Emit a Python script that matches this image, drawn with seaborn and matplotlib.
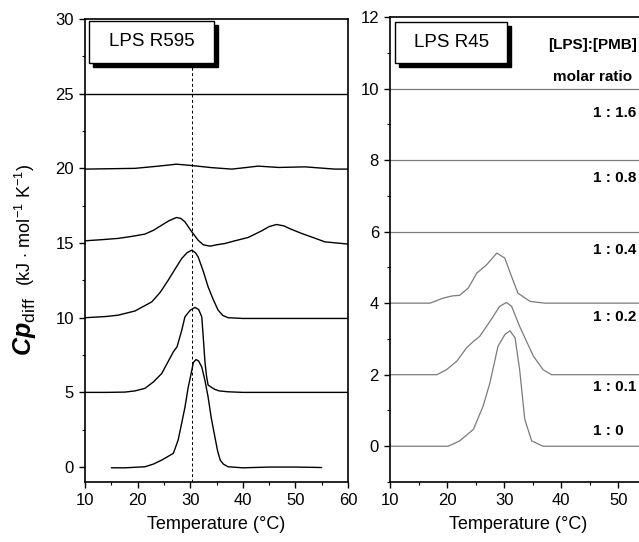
import matplotlib
matplotlib.use("Agg")
import matplotlib.pyplot as plt
from matplotlib.patches import Rectangle
from matplotlib.ticker import MultipleLocator
import seaborn as sns
import pandas as pd

# [LPS]:[PMB] molar ratios, bottom to top
ratios = ['1 : 0', '1 : 0.1', '1 : 0.2', '1 : 0.4', '1 : 0.8', '1 : 1.6']

# LPS R595 traces (values relative to each baseline), offset by 5
r595_offsets = [0, 5, 10, 15, 20, 25]
r595_x_0 = [15, 17.6, 21.4, 23.0, 24.6, 26.8, 27.7, 28.3, 29.0, 29.6, 30.2, 30.6, 31.1, 31.6, 32.2,
            32.8, 33.4, 34.0, 34.7, 35.2, 35.7, 36.3, 37.2, 40, 45, 50, 55]
r595_y_0 = [-0.05, -0.05, 0.02, 0.2, 0.47, 0.92, 1.8, 2.8, 4.0, 5.3, 6.3, 7.0, 7.2, 7.1, 6.7,
            5.8, 4.7, 3.3, 2.0, 1.1, 0.47, 0.2, 0.02, -0.05, 0.0, 0.0, -0.03]
r595_x_1 = [10, 14, 17.6, 19.5, 21.4, 23.0, 24.6, 26.8, 27.5, 28.4, 29.0, 30.0, 30.9, 31.6,
            32.2, 32.5, 32.8, 33.1, 33.4, 34.2, 34.7, 35.5, 37.2, 40, 45, 50, 55, 60]
r595_y_1 = [0, 0, 0.02, 0.1, 0.27, 0.7, 1.27, 2.72, 3.05, 4.17, 5.06, 5.5, 5.69, 5.55,
            5.06, 3.6, 2.06, 1.1, 0.49, 0.3, 0.2, 0.1, 0.04, 0, 0, 0, 0, 0]
r595_x_2 = [10, 14, 16.3, 19.5, 22.7, 24.3, 25.8, 27.2, 28.4, 29.4, 30.3, 31.0, 31.5, 32.5,
            33.4, 34.4, 35.3, 36.2, 37.2, 40, 45, 50, 55, 60]
r595_y_2 = [0, 0.08, 0.17, 0.45, 1.06, 1.7, 2.5, 3.3, 3.97, 4.35, 4.52, 4.35, 4.08, 3.1,
            2.07, 1.2, 0.51, 0.15, 0.0, -0.05, -0.05, -0.05, -0.05, -0.05]
r595_x_3 = [10, 13, 16.3, 19, 21.4, 23, 24.6, 26, 27.4, 28.2, 29.0, 30.2, 31.5, 32.5, 33.8, 35,
            36.6, 38.5, 41.0, 43.5, 45, 46.4, 47.8, 49, 51.2, 53.5, 55.6, 60]
r595_y_3 = [0.15, 0.22, 0.31, 0.45, 0.6, 0.85, 1.2, 1.5, 1.71, 1.65, 1.42, 0.8, 0.19, -0.12, -0.21,
            -0.12, -0.03, 0.15, 0.37, 0.8, 1.1, 1.24, 1.15, 0.95, 0.64, 0.35, 0.08, -0.07]
r595_x_4 = [10, 19.5, 24, 27.4, 30.3, 34, 37.9, 40.5, 42.9, 46.8, 51.8, 57.5, 60]
r595_y_4 = [-0.05, 0.0, 0.15, 0.28, 0.19, 0.05, -0.05, 0.05, 0.15, 0.06, 0.1, -0.05, -0.05]
r595_x_5 = [10, 60]
r595_y_5 = [0, 0]
r595_tm = 30.3

# LPS R45 traces (values relative to each baseline), offset by 2
r45_offsets = [0, 2, 4, 6, 8, 10]
r45_x_0 = [10, 20.2, 22.2, 24.6, 26.3, 27.5, 28.9, 30.1, 31.0, 31.9, 32.7, 33.6, 34.8, 36.8, 55]
r45_y_0 = [0, 0, 0.15, 0.47, 1.12, 1.77, 2.79, 3.12, 3.23, 3.03, 2.14, 0.75, 0.15, 0, 0]
r45_x_1 = [10, 18.2, 19.9, 21.7, 23.4, 24.6, 25.7, 27.5, 29.2, 30.4, 31.3, 32.7, 35.1, 36.8, 38.3, 55]
r45_y_1 = [0, 0, 0.14, 0.38, 0.75, 0.93, 1.07, 1.49, 1.91, 2.02, 1.91, 1.35, 0.52, 0.14, 0, 0]
r45_x_2 = [10, 17.0, 19.3, 20.8, 22.2, 23.7, 25.2, 26.9, 28.7, 30.1, 31.3, 32.4, 34.5, 37.1, 55]
r45_y_2 = [0, 0, 0.14, 0.2, 0.22, 0.42, 0.84, 1.07, 1.40, 1.26, 0.74, 0.28, 0.05, 0, 0]
r45_x_3 = [10, 55]
r45_y_3 = [0, 0]
r45_x_4 = [10, 55]
r45_y_4 = [0, 0]
r45_x_5 = [10, 55]
r45_y_5 = [0, 0]
r45_label_y = [0.42, 1.65, 3.6, 5.5, 7.5, 9.33]

sns.set_theme(style='ticks')
plt.rcParams['font.family'] = ['Liberation Sans', 'DejaVu Sans']
plt.rcParams['mathtext.fontset'] = 'custom'
plt.rcParams['mathtext.rm'] = 'Liberation Sans'
plt.rcParams['mathtext.it'] = 'Liberation Sans:italic'
plt.rcParams['mathtext.bf'] = 'Liberation Sans:bold:italic'


def make_df(xs, ys, offsets):
    frames = []
    for i, (x, y) in enumerate(zip(xs, ys)):
        frames.append(pd.DataFrame({'T': x, 'Cp': [v + offsets[i] for v in y], 'ratio': ratios[i]}))
    return pd.concat(frames, ignore_index=True)


r595 = make_df([r595_x_0, r595_x_1, r595_x_2, r595_x_3, r595_x_4, r595_x_5],
               [r595_y_0, r595_y_1, r595_y_2, r595_y_3, r595_y_4, r595_y_5], r595_offsets)
r45 = make_df([r45_x_0, r45_x_1, r45_x_2, r45_x_3, r45_x_4, r45_x_5],
              [r45_y_0, r45_y_1, r45_y_2, r45_y_3, r45_y_4, r45_y_5], r45_offsets)

fig = plt.figure(figsize=(6.39, 5.42), dpi=100)
ax1 = fig.add_axes([85 / 639, 60 / 542, 263 / 639, 463 / 542])
ax2 = fig.add_axes([390 / 639, 60 / 542, 257 / 639, 465 / 542])

sns.lineplot(data=r595, x='T', y='Cp', units='ratio', estimator=None, color='black',
             lw=1.0, ax=ax1, legend=False)
sns.lineplot(data=r45, x='T', y='Cp', units='ratio', estimator=None, color='#7a7a7a',
             lw=0.9, ax=ax2, legend=False)

ax1.vlines(r595_tm, -1, 27.1, colors='black', linestyles=(0, (3, 2.5)), lw=0.7)

ax1.set_xlim(10, 60)
ax1.set_ylim(-1, 30)
ax1.xaxis.set_major_locator(MultipleLocator(10))
ax1.xaxis.set_minor_locator(MultipleLocator(5))
ax1.yaxis.set_major_locator(MultipleLocator(5))
ax1.yaxis.set_minor_locator(MultipleLocator(2.5))

ax2.set_xlim(10, 55)
ax2.set_ylim(-1, 12)
ax2.set_xticks([10, 20, 30, 40, 50])
ax2.xaxis.set_minor_locator(MultipleLocator(5))
ax2.yaxis.set_major_locator(MultipleLocator(2))
ax2.yaxis.set_minor_locator(MultipleLocator(1))

for ax in (ax1, ax2):
    for s in ax.spines.values():
        s.set_linewidth(1.2)
        s.set_color('black')
    ax.tick_params(which='major', direction='out', length=4, width=1, labelsize=12, pad=4,
                   color='black', labelcolor='black')
    ax.tick_params(which='minor', direction='out', length=2.5, width=0.8, color='black')
    ax.set_xlabel('Temperature (°C)', fontsize=13, labelpad=6, color='black')
    ax.set_ylabel('')

# label boxes with drop shadow
for ax, name, (x0, x1, y0, y1) in [(ax1, 'LPS R595', (0.015, 0.49, 0.905, 0.996)),
                                   (ax2, 'LPS R45', (0.021, 0.455, 0.901, 0.989))]:
    dx = 4 / (ax.get_position().width * 639)
    dy = 4 / (ax.get_position().height * 542)
    ax.add_patch(Rectangle((x0 + dx, y0 - dy), x1 - x0, y1 - y0, transform=ax.transAxes,
                           facecolor='black', edgecolor='black', zorder=5, clip_on=False))
    ax.add_patch(Rectangle((x0, y0), x1 - x0, y1 - y0, transform=ax.transAxes,
                           facecolor='white', edgecolor='black', lw=1, zorder=6, clip_on=False))
    ax.text((x0 + x1) / 2, (y0 + y1) / 2, name, transform=ax.transAxes, ha='center',
            va='center', fontsize=13.5, zorder=7, color='black')

ax2.text(45.4, 11.22, '[LPS]:[PMB]', ha='center', va='center', fontsize=11,
         fontweight='bold', color='black')
ax2.text(45.4, 10.33, 'molar ratio', ha='center', va='center', fontsize=11,
         fontweight='bold', color='black')
for lab, yy in zip(ratios, r45_label_y):
    ax2.text(45.6, yy, lab, ha='left', va='center', fontsize=11, fontweight='bold',
             color='black', clip_on=False)

fig.text(25 / 639, 1 - 327 / 542, r'$\mathbf{Cp}_{\mathrm{diff}}$', rotation=90,
         ha='center', va='center', fontsize=18, color='black')
fig.text(25 / 639, 1 - 225 / 542, r'(kJ $\cdot$ mol$^{-1}$ K$^{-1}$)', rotation=90,
         ha='center', va='center', fontsize=13, color='black')

fig.savefig('out.png', dpi=100)
